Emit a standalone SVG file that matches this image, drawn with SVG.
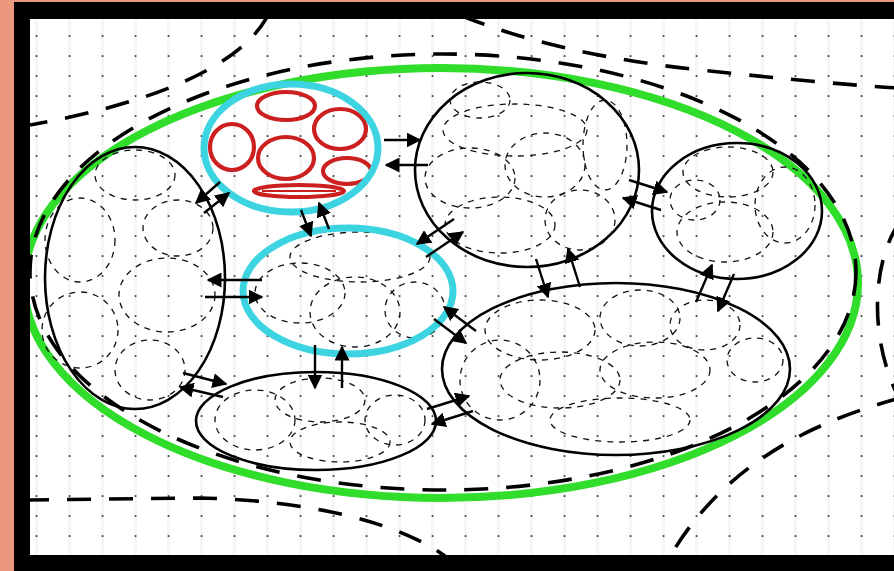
<svg xmlns="http://www.w3.org/2000/svg" width="894" height="571" viewBox="0 0 894 571">
<defs>
<style>
.blk{fill:none;stroke:#000;stroke-width:2.6}
.in{fill:none;stroke:#111;stroke-width:1.3;stroke-dasharray:6 6}
.od{fill:none;stroke:#000;stroke-width:3.6;stroke-dasharray:24 18;stroke-linecap:butt}
.cy{fill:none;stroke:#3DD4E2;stroke-width:7}
.rd{fill:none;stroke:#CC1F1F;stroke-width:4.2}
.ar{fill:none;stroke:#000;stroke-width:2.4;marker-end:url(#ah)}
</style>
<pattern id="dots" x="0" y="0" width="33" height="20" patternUnits="userSpaceOnUse">
<rect x="2" y="0" width="3" height="20" fill="#f6f6f6"/>
<rect x="2.7" y="15.2" width="1.7" height="1.7" fill="#333"/>
</pattern>
<marker id="ah" viewBox="0 0 10 10" refX="9" refY="5" markerWidth="15" markerHeight="15" markerUnits="userSpaceOnUse" orient="auto">
<path d="M0,0 L10,5 L0,10 z" fill="#000"/>
</marker>
<clipPath id="clip"><rect x="30" y="19" width="864" height="536"/></clipPath>
</defs>
<rect width="894" height="571" fill="#EB987D"/>
<rect x="14" y="2" width="880" height="569" fill="#000"/>
<rect x="30" y="19" width="864" height="536" fill="#fff"/>
<g clip-path="url(#clip)">
<rect x="30" y="19" width="864" height="536" fill="url(#dots)"/>
<g id="outer-curves">
<path class="od" d="M268,15 C245,60 170,100 30,125"/>
<path class="od" d="M462,16 Q560,55 700,70 T900,88"/>
<path class="od" d="M25,500 L200,498 C300,500 400,520 450,560"/>
<path class="od" d="M900,398 C820,420 725,460 668,560"/>
<path class="od" d="M900,222 C872,260 868,340 900,400"/>
</g>
<g id="green">
<ellipse cx="441" cy="283" rx="417" ry="215" fill="none" stroke="#2FDD2A" stroke-width="8"/>
<ellipse class="od" cx="443" cy="272" rx="413" ry="218" stroke-width="3.2"/>
</g>
<g id="cellA">
<ellipse class="blk" cx="135" cy="278" rx="90" ry="131"/>
<ellipse class="in" cx="80" cy="240" rx="35" ry="42"/>
<ellipse class="in" cx="178" cy="228" rx="35" ry="28"/>
<ellipse class="in" cx="167" cy="295" rx="48" ry="37"/>
<ellipse class="in" cx="80" cy="330" rx="38" ry="38"/>
<ellipse class="in" cx="150" cy="370" rx="35" ry="30"/>
<ellipse class="in" cx="135" cy="175" rx="40" ry="25"/>
</g>
<g id="cellB">
<ellipse class="blk" cx="527" cy="170" rx="112" ry="97"/>
<ellipse class="in" cx="515" cy="130" rx="72" ry="26"/>
<ellipse class="in" cx="470" cy="178" rx="45" ry="30"/>
<ellipse class="in" cx="545" cy="165" rx="40" ry="32"/>
<ellipse class="in" cx="605" cy="145" rx="22" ry="45"/>
<ellipse class="in" cx="500" cy="225" rx="55" ry="28"/>
<ellipse class="in" cx="580" cy="220" rx="35" ry="30"/>
<ellipse class="in" cx="480" cy="100" rx="30" ry="18"/>
</g>
<g id="cellC">
<ellipse class="blk" cx="737" cy="211" rx="85" ry="68"/>
<ellipse class="in" cx="728" cy="172" rx="45" ry="25"/>
<ellipse class="in" cx="785" cy="205" rx="30" ry="38"/>
<ellipse class="in" cx="725" cy="232" rx="48" ry="30"/>
<ellipse class="in" cx="695" cy="200" rx="25" ry="20"/>
</g>
<g id="cellD">
<ellipse class="blk" cx="616" cy="369" rx="174" ry="86"/>
<ellipse class="in" cx="540" cy="330" rx="55" ry="30"/>
<ellipse class="in" cx="640" cy="318" rx="40" ry="28"/>
<ellipse class="in" cx="705" cy="325" rx="35" ry="25"/>
<ellipse class="in" cx="560" cy="380" rx="60" ry="28"/>
<ellipse class="in" cx="655" cy="370" rx="55" ry="28"/>
<ellipse class="in" cx="755" cy="360" rx="28" ry="22"/>
<ellipse class="in" cx="500" cy="380" rx="40" ry="40"/>
<ellipse class="in" cx="620" cy="420" rx="70" ry="22"/>
</g>
<g id="cellE">
<ellipse class="blk" cx="316" cy="421" rx="120" ry="49"/>
<ellipse class="in" cx="255" cy="420" rx="40" ry="30"/>
<ellipse class="in" cx="320" cy="400" rx="45" ry="22"/>
<ellipse class="in" cx="340" cy="442" rx="50" ry="20"/>
<ellipse class="in" cx="395" cy="420" rx="30" ry="25"/>
</g>
<g id="cellCyan2">
<ellipse class="in" cx="300" cy="293" rx="45" ry="30"/>
<ellipse class="in" cx="360" cy="257" rx="70" ry="25"/>
<ellipse class="in" cx="355" cy="312" rx="45" ry="35"/>
<ellipse class="in" cx="415" cy="310" rx="30" ry="28"/>
<ellipse class="cy" cx="348" cy="291" rx="105" ry="63"/>
</g>
<g id="cellCyan1">
<ellipse class="rd" cx="286" cy="106" rx="29" ry="14"/>
<ellipse class="rd" cx="340" cy="129" rx="26" ry="20"/>
<ellipse class="rd" cx="232" cy="147" rx="22" ry="23"/>
<ellipse class="rd" cx="286" cy="158" rx="28" ry="21"/>
<ellipse class="rd" cx="347" cy="171" rx="24" ry="13"/>
<ellipse class="rd" cx="299" cy="191" rx="45" ry="6" stroke-width="3"/>
<line x1="262" y1="191" x2="336" y2="191" stroke="#CC1F1F" stroke-width="2"/>
<ellipse class="cy" cx="291" cy="148" rx="87" ry="64"/>
</g>
<g id="connectors">
<line class="ar" x1="384" y1="140" x2="420" y2="140"/>
<line class="ar" x1="428" y1="165" x2="386" y2="165"/>
<line class="ar" x1="220" y1="182" x2="196" y2="203"/>
<line class="ar" x1="204" y1="213" x2="229" y2="193"/>
<line class="ar" x1="301" y1="210" x2="311" y2="236"/>
<line class="ar" x1="329" y1="229" x2="319" y2="203"/>
<line class="ar" x1="262" y1="280" x2="208" y2="280"/>
<line class="ar" x1="205" y1="297" x2="262" y2="297"/>
<line class="ar" x1="426" y1="257" x2="463" y2="232"/>
<line class="ar" x1="454" y1="219" x2="417" y2="244"/>
<line class="ar" x1="629" y1="180" x2="667" y2="192"/>
<line class="ar" x1="661" y1="210" x2="623" y2="198"/>
<line class="ar" x1="536" y1="259" x2="548" y2="297"/>
<line class="ar" x1="580" y1="287" x2="568" y2="249"/>
<line class="ar" x1="696" y1="302" x2="712" y2="265"/>
<line class="ar" x1="734" y1="274" x2="718" y2="311"/>
<line class="ar" x1="434" y1="319" x2="466" y2="343"/>
<line class="ar" x1="476" y1="331" x2="444" y2="307"/>
<line class="ar" x1="315" y1="345" x2="315" y2="388"/>
<line class="ar" x1="342" y1="388" x2="342" y2="347"/>
<line class="ar" x1="183" y1="373" x2="226" y2="384"/>
<line class="ar" x1="223" y1="397" x2="180" y2="387"/>
<line class="ar" x1="427" y1="409" x2="469" y2="396"/>
<line class="ar" x1="473" y1="411" x2="432" y2="424"/>
</g>
</g>
</svg>
